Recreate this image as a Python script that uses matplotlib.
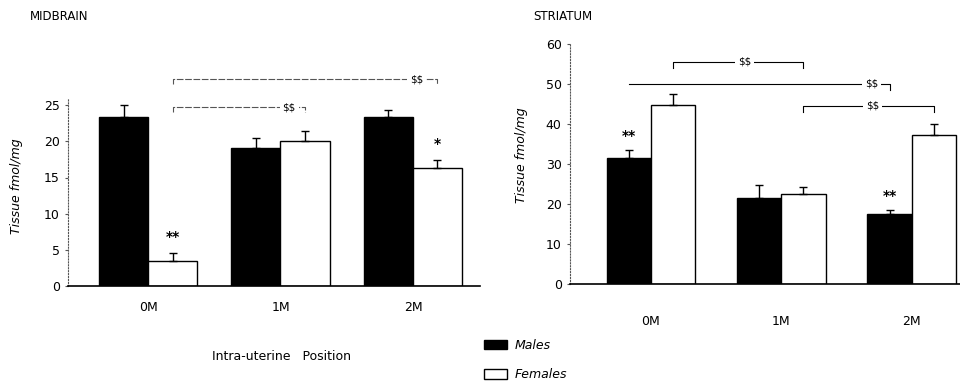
import matplotlib
matplotlib.use('Agg')
import matplotlib.pyplot as plt
import numpy as np
from matplotlib.patches import Patch

plt.rcParams['font.family'] = ['DejaVu Sans']
plt.rcParams['text.parse_math'] = False

positions = ['0M', '1M', '2M']

# midbrain (tissue fmol/mg)
mid_males = [23.4, 19.1, 23.3]
mid_males_err = [1.6, 1.3, 1.1]
mid_females = [3.5, 20.0, 16.3]
mid_females_err = [1.1, 1.4, 1.1]

# striatum (tissue fmol/mg)
str_males = [31.6, 21.6, 17.6]
str_males_err = [2.0, 3.2, 1.0]
str_females = [44.7, 22.4, 37.3]
str_females_err = [2.8, 1.8, 2.6]

# significance marks above bars: (sex, group, label)
mid_stars = [('f', 0, '**'), ('f', 2, '*')]
str_stars = [('m', 0, '**'), ('m', 2, '**')]

# bracket comparisons: ((sex, group), (sex, group), height, label frac, left end drop, label)
mid_brackets = [(('f', 0), ('f', 2), 28.6, 0.92, True, '$$'),
                (('f', 0), ('f', 1), 24.7, 0.88, True, '$$')]
str_brackets = [(('f', 0), ('f', 1), 55.5, 0.55, True, '$$'),
                (('m', 0), ('m', 2), 50.0, 0.93, False, '$$'),
                (('f', 1), ('f', 2), 44.5, 0.53, True, '$$')]


def draw_panel(ax, males, m_err, females, f_err, stars, brackets, width, ymax, yticks,
               spine_top, tick_pad, drop, star_off, bcolor, bstyle):
    x = np.arange(len(positions))
    xm = x - width / 2
    xf = x + width / 2
    ax.bar(xm, males, width, color='black', edgecolor='black', lw=1)
    ax.bar(xf, females, width, color='white', edgecolor='black', lw=1)
    ax.errorbar(xm, males, yerr=[np.zeros(3), m_err], fmt='none', ecolor='black',
                elinewidth=1, capsize=3)
    ax.errorbar(xf, females, yerr=[np.zeros(3), f_err], fmt='none', ecolor='black',
                elinewidth=1, capsize=3)
    xs = {'m': xm, 'f': xf}
    vals = {'m': (males, m_err), 'f': (females, f_err)}
    for sex, g, lab in stars:
        v, e = vals[sex]
        ax.text(xs[sex][g], v[g] + e[g] + star_off, lab, ha='center', va='center',
                fontsize=10, fontweight='bold')
    for (s1, g1), (s2, g2), h, frac, ldrop, lab in brackets:
        x1, x2 = xs[s1][g1], xs[s2][g2]
        y0 = h - drop if ldrop else h
        ax.plot([x1, x1, x2, x2], [y0, h, h, h - drop], color=bcolor, lw=0.8,
                ls=bstyle, clip_on=False)
        ax.text(x1 + frac * (x2 - x1), h, lab, ha='center', va='center', fontsize=7.5,
                bbox=dict(facecolor='white', edgecolor='none', pad=2))
    ax.set_ylim(0, ymax)
    ax.set_yticks(yticks)
    ax.set_xticks(x)
    ax.set_xticklabels(positions, fontsize=9)
    ax.tick_params(axis='x', length=0, pad=tick_pad)
    ax.tick_params(axis='y', length=2, width=0.8, pad=4, labelsize=9, color='#555555')
    for s in ['top', 'right']:
        ax.spines[s].set_visible(False)
    ax.spines['left'].set_linestyle(':')
    ax.spines['left'].set_color('#555555')
    ax.spines['left'].set_bounds(0, spine_top)
    ax.spines['bottom'].set_linewidth(1.2)


fig = plt.figure(figsize=(9.6, 3.82), dpi=100)

ax1 = fig.add_axes([68 / 960, 96 / 382, 412 / 960, 217 / 382])
ax1.set_xlim(-0.604, 2.506)
draw_panel(ax1, mid_males, mid_males_err, mid_females, mid_females_err, mid_stars,
           mid_brackets, 0.37, 30, [0, 5, 10, 15, 20, 25], 26, 11, 0.7, 2.2,
           '#555555', (0, (6, 1.5)))

ax2 = fig.add_axes([570 / 960, 98 / 382, 390 / 960, 240 / 382])
ax2.set_xlim(-0.62, 2.37)
draw_panel(ax2, str_males, str_males_err, str_females, str_females_err, str_stars,
           str_brackets, 0.34, 60, [0, 10, 20, 30, 40, 50, 60], 60, 22, 1.5, 3.5,
           'black', '-')

fig.text(30 / 960, 1 - 17 / 382, 'MIDBRAIN', fontsize=8.5, ha='left', va='center')
fig.text(533 / 960, 1 - 17 / 382, 'STRIATUM', fontsize=8.5, ha='left', va='center')
fig.text(17 / 960, 1 - 186 / 382, 'Tissue fmol/mg', rotation=90, fontsize=9,
         style='italic', ha='center', va='center')
fig.text(522 / 960, 1 - 155 / 382, 'Tissue fmol/mg', rotation=90, fontsize=9,
         style='italic', ha='center', va='center')
fig.text(282 / 960, 1 - 356 / 382, 'Intra-uterine   Position', fontsize=9,
         ha='center', va='center')

handles = [Patch(facecolor='black', edgecolor='black', label='Males'),
           Patch(facecolor='white', edgecolor='black', label='Females')]
leg = fig.legend(handles=handles, loc='center left', bbox_to_anchor=(478 / 960, 1 - 360 / 382),
                 frameon=False, fontsize=9, handlelength=1.8, handleheight=0.8,
                 handletextpad=0.6, labelspacing=1.3, borderpad=0)
for t in leg.get_texts():
    t.set_style('italic')

fig.savefig('out.png', dpi=100)
